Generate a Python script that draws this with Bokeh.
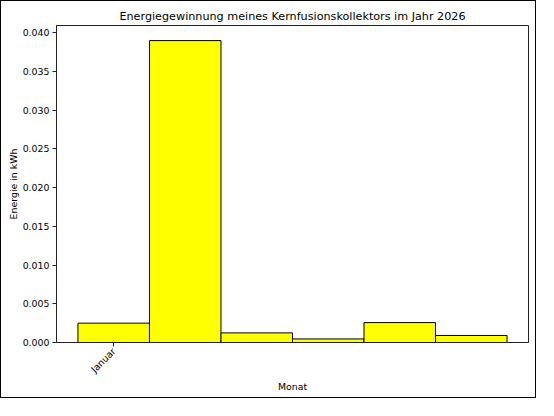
import math
from bokeh.plotting import figure
from bokeh.models import Range1d, FixedTicker, NumeralTickFormatter, ColumnDataSource
from bokeh.embed import file_html
from bokeh.resources import INLINE

# ---- data ----
months = ["Januar", "Februar", "März", "April", "Mai", "Juni"]
energy_kwh = [0.0025, 0.0390, 0.00124, 0.00046, 0.00257, 0.00091]
tick_labels = ["Januar"]
y_ticks = [0.000, 0.005, 0.010, 0.015, 0.020, 0.025, 0.030, 0.035, 0.040]

title_text = "Energiegewinnung meines Kernfusionskollektors im Jahr 2026"
FONT = "DejaVu Sans"

xs = list(range(len(months)))
src = ColumnDataSource(dict(x=xs, top=energy_kwh, month=months))

p = figure(width=536, height=398, output_backend="svg", toolbar_location=None,
           x_range=Range1d(-0.8, len(months) - 0.2),
           y_range=Range1d(0, max(energy_kwh) * 1.05),
           title=title_text,
           min_border_left=55, min_border_right=9, min_border_top=24, min_border_bottom=57)

p.vbar(x="x", top="top", width=1.0, source=src,
       fill_color="#ffff00", line_color="black", line_width=1)

p.styles = {"border": "1px solid black"}

p.grid.visible = False
p.outline_line_color = "#222222"
p.outline_line_width = 1
p.background_fill_color = "white"
p.border_fill_color = "white"

p.title.align = "center"
p.title.text_font = FONT
p.title.text_font_size = "11.2px"
p.title.text_font_style = "normal"
p.title.text_color = "black"
p.title.standoff = 6
p.title.offset = 0

p.xaxis.ticker = FixedTicker(ticks=[months.index(t) for t in tick_labels])
p.xaxis.major_label_overrides = {months.index(t): t for t in tick_labels}
p.xaxis.major_label_orientation = math.pi / 4
p.xaxis.axis_label = "Monat"

p.yaxis.ticker = FixedTicker(ticks=y_ticks)
p.yaxis.formatter = NumeralTickFormatter(format="0.000")
p.yaxis.axis_label = "Energie in kWh"

for ax in (p.xaxis[0], p.yaxis[0]):
    ax.axis_line_color = "#222222"
    ax.major_tick_line_color = "#222222"
    ax.major_tick_out = 4
    ax.major_tick_in = 0
    ax.minor_tick_line_color = None
    ax.major_label_standoff = 3
    ax.major_label_text_font = FONT
    ax.major_label_text_font_size = "9.4px"
    ax.major_label_text_color = "black"
    ax.axis_label_text_font = FONT
    ax.axis_label_text_font_size = "9.4px"
    ax.axis_label_text_font_style = "normal"
    ax.axis_label_text_color = "black"

p.yaxis.axis_label_standoff = 1
p.xaxis.axis_label_standoff = 0

open("out.html", "w").write(file_html(p, INLINE))
